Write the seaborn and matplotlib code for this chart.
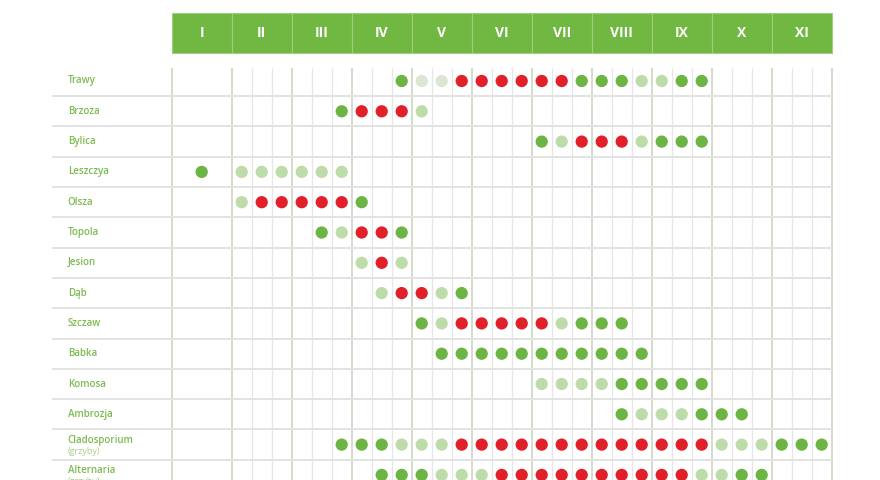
import matplotlib
matplotlib.use("Agg")
import matplotlib.pyplot as plt
import pandas as pd
import seaborn as sns

months = ["I", "II", "III", "IV", "V", "VI", "VII", "VIII", "IX", "X", "XI"]
plants = ["Trawy", "Brzoza", "Bylica", "Leszczya", "Olsza", "Topola", "Jesion",
          "Dąb", "Szczaw", "Babka", "Komosa", "Ambrozja", "Cladosporium", "Alternaria"]
notes = ["", "", "", "", "", "", "", "", "", "", "", "", "(grzyby)", "(grzyby)"]

# January is one cell, then three decades for each month II..XI
# . none, p very low, l low, g medium, r high
season = [
    ". ... ... ..g ppr rrr rrg ggl lgg ... ...",  # Trawy
    ". ... ..g rrr l.. ... ... ... ... ... ...",  # Brzoza
    ". ... ... ... ... ... glr rrl ggg ... ...",  # Bylica
    "g lll lll ... ... ... ... ... ... ... ...",  # Leszczya
    ". lrr rrr g.. ... ... ... ... ... ... ...",  # Olsza
    ". ... .gl rrg ... ... ... ... ... ... ...",  # Topola
    ". ... ... lrl ... ... ... ... ... ... ...",  # Jesion
    ". ... ... .lr rlg ... ... ... ... ... ...",  # Dąb
    ". ... ... ... glr rrr rlg gg. ... ... ...",  # Szczaw
    ". ... ... ... .gg ggg ggg ggg ... ... ...",  # Babka
    ". ... ... ... ... ... lll lgg ggg ... ...",  # Komosa
    ". ... ... ... ... ... ... .gl llg gg. ...",  # Ambrozja
    ". ... ..g ggl llr rrr rrr rrr rrr lll ggg",  # Cladosporium
    ". ... ... .gg gll lrr rrr rrr rrl lgg ...",  # Alternaria
]
palette = {"p": "#dde6d3", "l": "#bedca9", "g": "#6cb444", "r": "#e2202a"}

rows = []
for r, (plant, code) in enumerate(zip(plants, season)):
    for k, c in enumerate(code.replace(" ", "")):
        if c != ".":
            rows.append({"plant": plant, "row": r,
                         "x": 1.5 if k == 0 else k + 2.5, "level": c})
df = pd.DataFrame(rows)

sns.set_theme(style="white")
plt.rcParams["font.family"] = ["Open Sans", "DejaVu Sans"]

fig = plt.figure(figsize=(8.8, 4.8), dpi=100)
ax = fig.add_axes([0, 0, 1, 1])

# grid: month lines, decade lines, row separators
n_cols = 3 * len(months)
month_edges = list(range(0, n_cols + 1, 3))
decade_lines = [x for x in range(3, n_cols) if x % 3]
ax.vlines(decade_lines, -0.43, len(plants), color="#e6e6e2", lw=0.9, zorder=1)
ax.vlines(month_edges, -0.43, len(plants), color="#d2d9c4", lw=1.3, zorder=1)
ax.hlines([r + 0.5 for r in range(len(plants))], -5.99, n_cols,
          color="#e3e3e3", lw=1.4, zorder=2)

# header
hdr_top, hdr_bottom = -2.24, -0.92
ax.bar([3 * i + 1.5 for i in range(len(months))], hdr_bottom - hdr_top,
       bottom=hdr_top, width=3, color="#71b843", edgecolor="#9fce7e",
       linewidth=0.8, zorder=3)
for i, m in enumerate(months):
    ax.text(3 * i + 1.5, (hdr_top + hdr_bottom) / 2, m, color="white",
            fontsize=10, fontweight="bold", ha="center", va="center", zorder=4)

sns.scatterplot(data=df, x="x", y="row", hue="level", palette=palette,
                s=78, linewidth=0, legend=False, ax=ax, zorder=5)

for r, (plant, note) in enumerate(zip(plants, notes)):
    if note:
        ax.text(-5.2, r - 0.14, plant, color="#7dbb52", fontsize=7,
                fontweight="semibold", va="center", ha="left")
        ax.text(-5.2, r + 0.23, note, color="#a9cf8c", fontsize=6.5,
                va="center", ha="left")
    else:
        ax.text(-5.2, r, plant, color="#7dbb52", fontsize=7,
                fontweight="semibold", va="center", ha="left")

ax.set_xlim(-8.585, 35.415)
ax.set_ylim(13.168, -2.673)
ax.axis("off")

fig.savefig("out.png", dpi=100)
